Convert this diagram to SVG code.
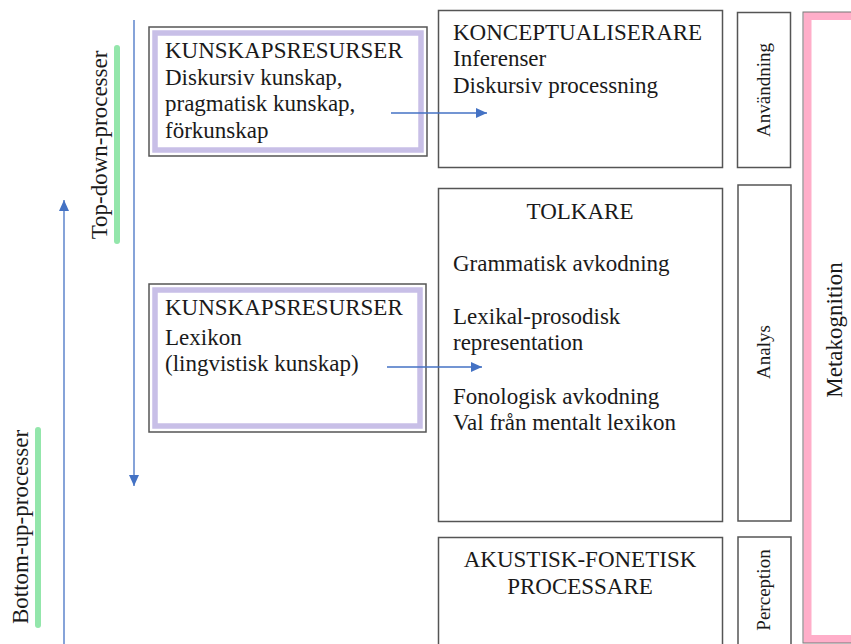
<svg xmlns="http://www.w3.org/2000/svg" width="851" height="644" viewBox="0 0 851 644">
<defs>
<style>
.t{font-family:"Liberation Serif","Times New Roman",serif;font-size:23px;fill:#1a1a1a}
.s{font-family:"Liberation Serif","Times New Roman",serif;font-size:19px;fill:#1a1a1a}
.b{font-family:"Liberation Serif","Times New Roman",serif;font-size:23px;fill:#1a1a1a}
.box{fill:#fff;stroke:#555;stroke-width:1.5}
.lil{fill:none;stroke:#c8bfe7;stroke-width:5.5}
.ln{stroke:#4472c4;stroke-width:1.3;fill:none}
.gr{stroke:#93e6ab;stroke-width:6;stroke-linecap:round}
</style>
<marker id="ah" markerWidth="11" markerHeight="10" refX="11" refY="5" orient="auto" markerUnits="userSpaceOnUse">
<path d="M0,0 L11,5 L0,10 z" fill="#4472c4"/>
</marker>
</defs>
<rect width="851" height="644" fill="#fff"/>

<g id="metakognition">
<rect x="807.5" y="16" width="60" height="623" fill="none" stroke="#ffaec9" stroke-width="8"/>
<rect x="803" y="12" width="70" height="631" fill="none" stroke="#777" stroke-width="1"/>
<text class="b" transform="translate(842,330) rotate(-90)" text-anchor="middle" font-size="24">Metakognition</text>
</g>

<g id="anvandning">
<rect class="box" x="737.5" y="12.5" width="53" height="155"/>
<text class="s" transform="translate(770,90) rotate(-90)" text-anchor="middle">Användning</text>
</g>
<g id="analys">
<rect class="box" x="738" y="185" width="53" height="336"/>
<text class="s" transform="translate(770,352) rotate(-90)" text-anchor="middle">Analys</text>
</g>
<g id="perception">
<rect class="box" x="738" y="537" width="53" height="120"/>
<text class="s" transform="translate(770,590) rotate(-90)" text-anchor="middle">Perception</text>
</g>

<g id="konceptualiserare">
<rect class="box" x="438.5" y="10.5" width="284" height="157"/>
<text class="t" x="453" y="40">KONCEPTUALISERARE</text>
<text class="t" x="453" y="66">Inferenser</text>
<text class="t" x="453" y="93">Diskursiv processning</text>
</g>

<g id="tolkare">
<rect class="box" x="438.5" y="188.5" width="284" height="333"/>
<text class="t" x="580" y="219" text-anchor="middle">TOLKARE</text>
<text class="t" x="453" y="271">Grammatisk avkodning</text>
<text class="t" x="453" y="324">Lexikal-prosodisk</text>
<text class="t" x="453" y="350">representation</text>
<text class="t" x="453" y="404">Fonologisk avkodning</text>
<text class="t" x="453" y="430">Val från mentalt lexikon</text>
</g>

<g id="akustisk">
<rect class="box" x="438.5" y="537.5" width="284" height="120"/>
<text class="t" x="580" y="567" text-anchor="middle">AKUSTISK-FONETISK</text>
<text class="t" x="580" y="594" text-anchor="middle">PROCESSARE</text>
</g>

<g id="kunskap1">
<rect class="box" x="149" y="27" width="278" height="129" stroke-width="2"/>
<rect class="lil" x="155" y="33" width="266" height="117"/>
<text class="t" x="165" y="58">KUNSKAPSRESURSER</text>
<text class="t" x="165" y="85">Diskursiv kunskap,</text>
<text class="t" x="165" y="111">pragmatisk kunskap,</text>
<text class="t" x="165" y="138">förkunskap</text>
</g>

<g id="kunskap2">
<rect class="box" x="149" y="284" width="277" height="148" stroke-width="2"/>
<rect class="lil" x="155" y="290" width="265" height="136"/>
<text class="t" x="165" y="315">KUNSKAPSRESURSER</text>
<text class="t" x="165" y="345" fill="#1c1c30">Lexikon</text>
<text class="t" x="165" y="371" fill="#1c1c30">(lingvistisk kunskap)</text>
</g>

<g id="labels">
<line class="gr" x1="117" y1="48" x2="117" y2="241"/>
<text class="b" transform="translate(107,145) rotate(-90)" text-anchor="middle">Top-down-processer</text>
<line class="gr" x1="38" y1="430" x2="38" y2="625"/>
<text class="b" transform="translate(28,527) rotate(-90)" text-anchor="middle">Bottom-up-processer</text>
</g>

<g id="connectors">
<line class="ln" x1="134" y1="20" x2="134" y2="486" marker-end="url(#ah)"/>
<line class="ln" x1="64" y1="644" x2="64" y2="200" marker-end="url(#ah)"/>
<line class="ln" x1="391" y1="113" x2="487" y2="113" marker-end="url(#ah)"/>
<line class="ln" x1="387" y1="367" x2="482" y2="367" marker-end="url(#ah)"/>
</g>
</svg>
